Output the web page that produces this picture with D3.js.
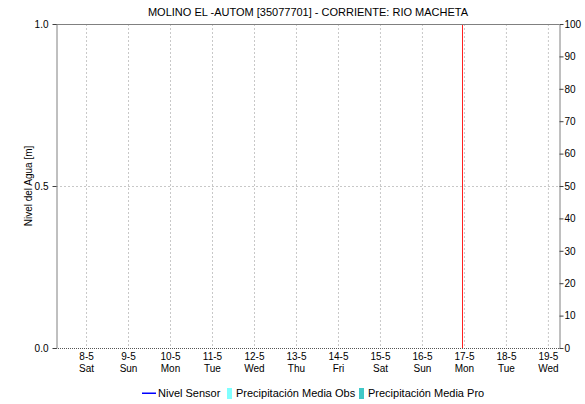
<!DOCTYPE html>
<html>
<head>
<meta charset="utf-8">
<script src="https://cdn.jsdelivr.net/npm/d3@7"></script>
<style>
    body { margin: 0; background: #fff; }
    svg text { font-family: "Liberation Sans", Arial, sans-serif; fill: #000; }
</style>
</head>
<body>
<div id="chart"></div>
<script>

// chart data
let title = "MOLINO EL -AUTOM [35077701] - CORRIENTE: RIO MACHETA";
let startTime = "2021-05-07T06:50";
let endTime = "2021-05-19T06:20";
let nowTime = "2021-05-16T22:50";
let levelTicks = [0.0, 0.5, 1.0];
let rainTicks = [0, 10, 20, 30, 40, 50, 60, 70, 80, 90, 100];
let nivelSensor = [];        // no readings in the window
let precipObs = [];
let precipPro = [];
let legendItems = ["Nivel Sensor", "Precipitación Media Obs", "Precipitación Media Pro"];


let margin = {top: 24, right: 26, bottom: 56, left: 56};
let width = 585 - margin.left - margin.right;
let height = 404 - margin.top - margin.bottom;

let svg = d3.select("#chart").append("svg")
    .attr("width", 585)
    .attr("height", 404);

let g = svg.append("g")
    .attr("transform", `translate(${margin.left}, ${margin.top})`);

let parse = d3.timeParse("%Y-%m-%dT%H:%M");

let x = d3.scaleTime()
    .domain([parse(startTime), parse(endTime)])
    .range([0, width]);

let yLevel = d3.scaleLinear()
    .domain([0, 1])
    .range([height, 0]);

let yRain = d3.scaleLinear()
    .domain([0, 100])
    .range([height, 0]);

let days = d3.timeDay.range(d3.timeDay.ceil(parse(startTime)), parse(endTime));

// grid
g.append("g").selectAll("line")
    .data(days)
    .enter().append("line")
    .attr("x1", d => x(d) + 0.5)
    .attr("x2", d => x(d) + 0.5)
    .attr("y1", 0)
    .attr("y2", height)
    .attr("stroke", "#c8c8c8")
    .attr("stroke-dasharray", "2,2");

g.append("line")
    .attr("x1", 0)
    .attr("x2", width)
    .attr("y1", Math.round(yLevel(0.5)) + 0.5)
    .attr("y2", Math.round(yLevel(0.5)) + 0.5)
    .attr("stroke", "#c8c8c8")
    .attr("stroke-dasharray", "2,2");

// precipitation bars (empty)
let barW = x(d3.timeHour.offset(parse(startTime), 20)) - x(parse(startTime));
g.append("g").selectAll("rect.obs")
    .data(precipObs)
    .enter().append("rect")
    .attr("x", d => x(parse(d.t)) - barW / 2)
    .attr("y", d => yRain(d.v))
    .attr("width", barW)
    .attr("height", d => height - yRain(d.v))
    .attr("fill", "#80ffff");
g.append("g").selectAll("rect.pro")
    .data(precipPro)
    .enter().append("rect")
    .attr("x", d => x(parse(d.t)) - barW / 2)
    .attr("y", d => yRain(d.v))
    .attr("width", barW)
    .attr("height", d => height - yRain(d.v))
    .attr("fill", "#40c8c8");

// level line (empty)
g.append("path")
    .datum(nivelSensor)
    .attr("fill", "none")
    .attr("stroke", "#0000ff")
    .attr("d", d3.line().x(d => x(parse(d.t))).y(d => yLevel(d.v)));

// now marker
g.append("line")
    .attr("x1", Math.round(x(parse(nowTime))) + 0.5)
    .attr("x2", Math.round(x(parse(nowTime))) + 0.5)
    .attr("y1", 0)
    .attr("y2", height)
    .attr("stroke", "#ff2020")
    .attr("stroke-width", 1);

// frame
g.append("line")
    .attr("x1", 0).attr("x2", width)
    .attr("y1", 0.5).attr("y2", 0.5)
    .attr("stroke", "#808080");
g.append("line")
    .attr("x1", 0).attr("x2", width)
    .attr("y1", height + 0.5).attr("y2", height + 0.5)
    .attr("stroke", "#555")
    .attr("stroke-dasharray", "1,1");

// left axis
let leftAxis = g.append("g")
    .attr("transform", "translate(0.5,0)")
    .call(d3.axisLeft(yLevel).tickValues(levelTicks).tickFormat(d3.format(".1f")).tickSize(4).tickSizeOuter(0));
leftAxis.select(".domain").attr("stroke", "#808080");
leftAxis.selectAll(".tick line").attr("stroke", "#404040");
leftAxis.selectAll(".tick text")
    .attr("font-size", 10)
    .attr("font-family", "Liberation Sans, Arial, sans-serif")
    .attr("dx", -1)
    .attr("dy", "0.32em");

// right axis
let rightAxis = g.append("g")
    .attr("transform", `translate(${width + 0.5},0)`)
    .call(d3.axisRight(yRain).tickValues(rainTicks).tickSize(4).tickSizeOuter(0));
rightAxis.select(".domain").attr("stroke", "#808080");
rightAxis.selectAll(".tick line").attr("stroke", "#404040");
rightAxis.selectAll(".tick text")
    .attr("font-size", 10)
    .attr("font-family", "Liberation Sans, Arial, sans-serif")
    .attr("x", 5)
    .attr("dy", "0.32em");

// bottom tick labels (date + weekday)
let xLabels = g.append("g")
    .attr("transform", `translate(0, ${height})`)
    .selectAll("g")
    .data(days)
    .enter().append("g")
    .attr("transform", d => `translate(${x(d) + 0.5}, 0)`);

xLabels.append("text")
    .attr("y", 12)
    .attr("text-anchor", "middle")
    .attr("font-size", 10)
    .text(d => d3.timeFormat("%-d-%-m")(d));

xLabels.append("text")
    .attr("y", 24)
    .attr("text-anchor", "middle")
    .attr("font-size", 10)
    .text(d => d3.timeFormat("%a")(d));

// title
svg.append("text")
    .attr("x", 308)
    .attr("y", 16)
    .attr("text-anchor", "middle")
    .attr("font-size", 11)
    .text(title);

// y label
svg.append("text")
    .attr("transform", `translate(32, ${margin.top + height / 2}) rotate(-90)`)
    .attr("text-anchor", "middle")
    .attr("font-size", 10)
    .text("Nivel del Agua [m]");

// legend
let legend = svg.append("g")
    .attr("transform", "translate(142, 393)");

legend.append("rect")
    .attr("x", 0).attr("y", -0.5)
    .attr("width", 14).attr("height", 1.5)
    .attr("fill", "#0000ff");
legend.append("text")
    .attr("x", 16).attr("y", 4)
    .attr("font-size", 11)
    .text(legendItems[0]);

legend.append("rect")
    .attr("x", 85).attr("y", -5)
    .attr("width", 5).attr("height", 11)
    .attr("fill", "#80ffff");
legend.append("text")
    .attr("x", 94).attr("y", 4)
    .attr("font-size", 11)
    .text(legendItems[1]);

legend.append("rect")
    .attr("x", 217).attr("y", -5)
    .attr("width", 5).attr("height", 11)
    .attr("fill", "#40c8c8");
legend.append("text")
    .attr("x", 226).attr("y", 4)
    .attr("font-size", 11)
    .text(legendItems[2]);

</script>
</body>
</html>
